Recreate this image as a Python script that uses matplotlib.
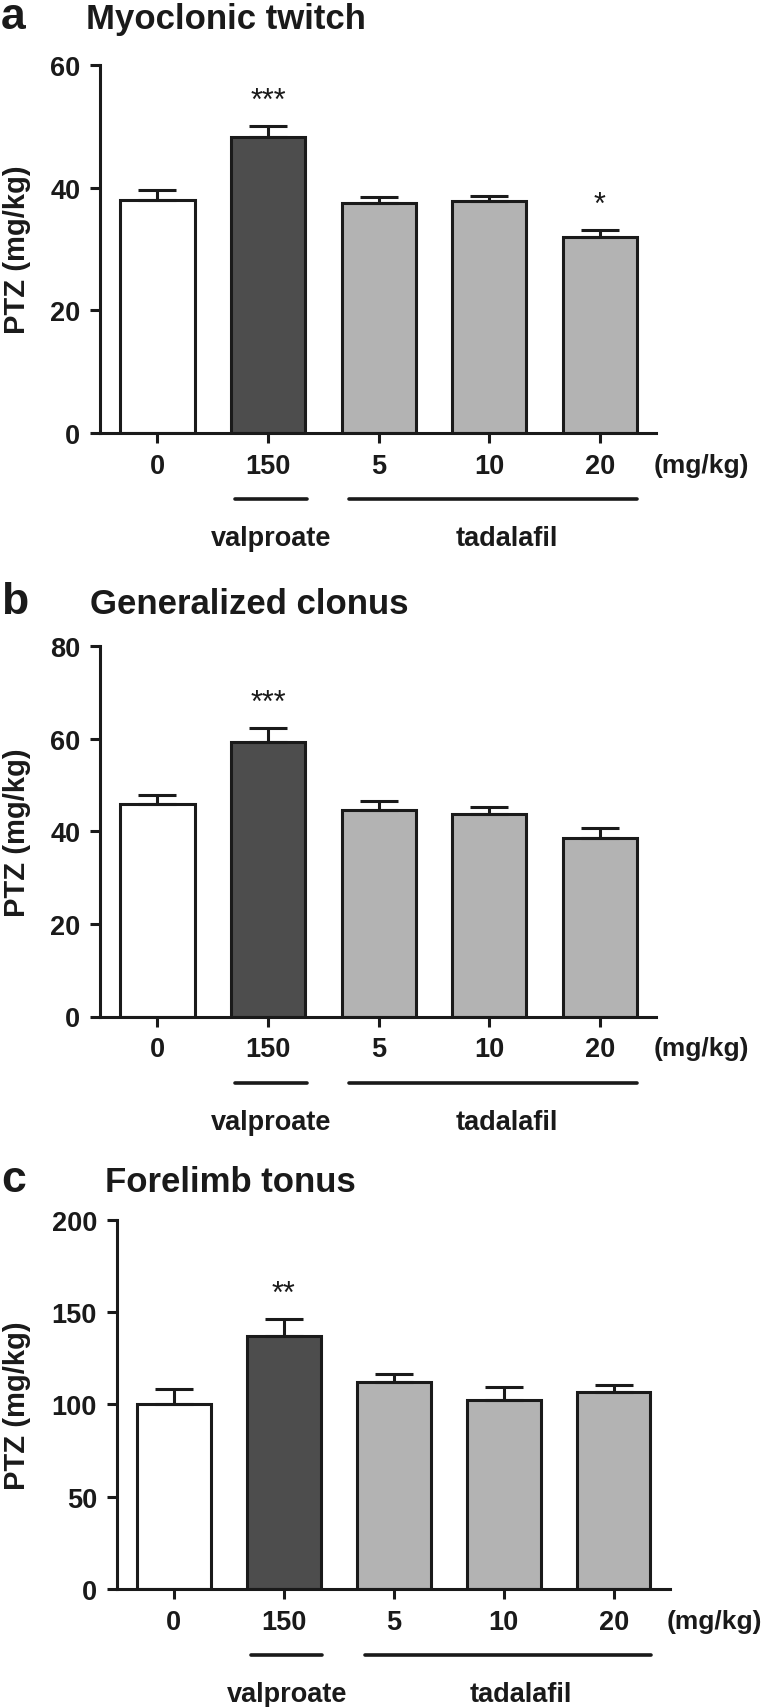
import matplotlib
matplotlib.use("Agg")
import matplotlib.pyplot as plt
from matplotlib import transforms

plt.rcParams['font.family'] = ['Liberation Sans', 'DejaVu Sans']
plt.rcParams['text.color'] = '#1a1a1a'

# --- data ---
doses = ['0', '150', '5', '10', '20']
bar_colors = ['white', '#4d4d4d', '#b3b3b3', '#b3b3b3', '#b3b3b3']

twitch_mean = [38.0, 48.2, 37.5, 37.8, 31.9]
twitch_sem = [1.7, 1.8, 0.9, 0.9, 1.2]
twitch_stars = ['', '***', '', '', '*']

clonus_mean = [45.9, 59.3, 44.5, 43.8, 38.5]
clonus_sem = [2.0, 3.0, 2.0, 1.5, 2.3]
clonus_stars = ['', '***', '', '', '']

tonus_mean = [100.0, 137.1, 112.0, 102.2, 106.5]
tonus_sem = [8.4, 9.1, 4.7, 7.4, 3.9]
tonus_stars = ['', '**', '', '', '']

W, H = 767, 1708
fig = plt.figure(figsize=(W / 100, H / 100), dpi=100)
LW = 2.2
INK = '#1a1a1a'


def px_box(left, top, width, height):
    return [left / W, 1 - (top + height) / H, width / W, height / H]


def draw_panel(ax, means, sems, stars, ymax, ystep):
    x = list(range(len(means)))
    ax.bar(x, means, width=0.67, color=bar_colors, edgecolor=INK,
           linewidth=LW, zorder=2)
    ax.errorbar(x, means, yerr=[[0] * len(sems), sems], fmt='none',
                ecolor=INK, elinewidth=LW, capsize=13.5, capthick=LW,
                zorder=3)
    for i, s in enumerate(stars):
        if s:
            ax.annotate(s, (i, means[i] + sems[i]), xytext=(0, 12.5),
                        textcoords='offset points', ha='center',
                        va='baseline', fontsize=22)
    ax.set_xlim(-0.52, 4.51)
    ax.set_ylim(0, ymax)
    ax.set_yticks(range(0, ymax + 1, ystep))
    ax.set_xticks(x)
    ax.set_xticklabels(doses)
    for lab in ax.get_xticklabels() + ax.get_yticklabels():
        lab.set_fontweight('bold')
    ax.tick_params(direction='out', length=7.2, width=LW, labelsize=19.5,
                   pad=7, colors=INK)
    for side in ['top', 'right']:
        ax.spines[side].set_visible(False)
    for side in ['left', 'bottom']:
        ax.spines[side].set_linewidth(LW)
        ax.spines[side].set_color(INK)
    ax.annotate('(mg/kg)', (0.995, 0), xycoords='axes fraction',
                xytext=(0, -14.4), textcoords='offset points',
                ha='left', va='top', fontsize=19, fontweight='bold')
    # group underlines and labels
    trans = transforms.blended_transform_factory(ax.transData, ax.transAxes)
    ax.plot([0.70, 1.35], [-0.179, -0.179], color=INK, lw=2.6,
            solid_capstyle='round', transform=trans, clip_on=False)
    ax.plot([1.735, 4.34], [-0.179, -0.179], color=INK, lw=2.6,
            solid_capstyle='round', transform=trans, clip_on=False)
    ax.text(1.03, -0.304, 'valproate', transform=trans, ha='center',
            va='baseline', fontsize=19.5, fontweight='bold')
    ax.text(3.16, -0.304, 'tadalafil', transform=trans, ha='center',
            va='baseline', fontsize=19.5, fontweight='bold')


panels = [
    (px_box(100, 66, 556, 368), 'a', 'Myoclonic twitch', 29.3, 86,
     twitch_mean, twitch_sem, twitch_stars, 60, 20),
    (px_box(100, 647, 556, 370.5), 'b', 'Generalized clonus', 613.7, 90,
     clonus_mean, clonus_sem, clonus_stars, 80, 20),
    (px_box(116.7, 1220.7, 553, 369.3), 'c', 'Forelimb tonus', 1192.5, 105,
     tonus_mean, tonus_sem, tonus_stars, 200, 50),
]

for rect, letter, title, base_y, title_x, means, sems, stars, ymax, ystep in panels:
    ax = fig.add_axes(rect)
    draw_panel(ax, means, sems, stars, ymax, ystep)
    fig.text(1 / W, 1 - base_y / H, letter, fontsize=32, fontweight='bold',
             va='baseline', ha='left')
    fig.text(title_x / W, 1 - base_y / H, title, fontsize=25,
             fontweight='bold', va='baseline', ha='left')
    yc = rect[1] + rect[3] / 2
    fig.text(17.5 / W, yc, 'PTZ (mg/kg)', rotation=90, fontsize=21,
             fontweight='bold', ha='center', va='center')

fig.savefig('out.png', dpi=100, facecolor='white')
